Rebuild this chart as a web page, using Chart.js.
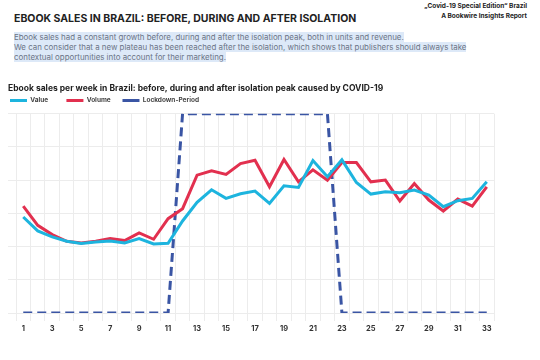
<!DOCTYPE html>
<html lang="en"><head>
<meta charset="utf-8">
<title>Ebook sales in Brazil</title>
<style type="text/css">
body   { margin:0; width:540px; height:360px; background:#ffffff; font-family:Inter,"Noto Sans",sans-serif; overflow:hidden; position:relative; }
.src   { position:absolute; right:13px; top:1px; text-align:right; font-size:6.5px; font-weight:700; color:#222; line-height:10px; }
h1     { position:absolute; left:14px; top:12px; margin:0; font-size:10.5px; font-weight:700; color:#222; letter-spacing:0; }
.txt   { position:absolute; left:14px; top:32px; width:525px; font-size:7.9px; line-height:10px; color:#6b7486; }
.txt span { background:#dde9f8; }
#box   { position:absolute; left:0; top:79px; width:540px; height:261px; }
</style>
<script src="https://cdn.jsdelivr.net/npm/chart.js"></script>
<script>
// weeks 1..33
weeks=[1,2,3,4,5,6,7,8,9,10,11,12,13,14,15,16,17,18,19,20,21,22,23,24,25,26,27,28,29,30,31,32,33];
value=[2.89,2.47,2.29,2.16,2.09,2.14,2.17,2.11,2.24,2.08,2.10,2.77,3.33,3.71,3.45,3.59,3.67,3.30,3.83,3.78,
       4.59,4.10,4.61,3.93,3.58,3.65,3.62,3.70,3.55,3.20,3.38,3.45,3.95];
volume=[3.22,2.64,2.36,2.16,2.11,2.16,2.24,2.18,2.41,2.22,2.84,3.14,4.15,4.28,4.17,4.50,4.60,3.80,4.62,3.95,
        4.31,4.00,4.53,4.53,3.95,4.00,3.37,3.90,3.40,3.07,3.43,3.22,3.80];
lockdown=[0,0,0,0,0,0,0,0,0,0,0,6,6,6,6,6,6,6,6,6,6,6,0,0,0,0,0,0,0,0,0,0,0];

function initChart() {
  config={type:'line',data:{labels:weeks,datasets:[{
    label:'Value',data:value,borderColor:'#1db4de',backgroundColor:'#1db4de',borderWidth:3,
    pointRadius:0,tension:0},{
    label:'Volume',data:volume,borderColor:'#e2304f',backgroundColor:'#e2304f',borderWidth:3,
    pointRadius:0,tension:0},{
    label:'Lockdown-Period',data:lockdown,borderColor:'#3a55a4',backgroundColor:'#3a55a4',borderWidth:3,
    borderDash:[9,5],pointRadius:0,tension:0}]},
  options:{responsive:true,maintainAspectRatio:false,animation:false,
    layout:{padding:{left:8,right:46,bottom:4}},
    plugins:{
      title:{display:true,align:'start',text:'Ebook sales per week in Brazil: before, during and after isolation peak caused by COVID-19',
        color:'#222',font:{family:'Inter',size:8.5,weight:'bold'},padding:{top:4,bottom:2}},
      legend:{align:'start',labels:{usePointStyle:true,pointStyle:'line',pointStyleWidth:17,boxWidth:17,boxHeight:6,
        padding:2,color:'#444',font:{family:'Inter',size:6.5,weight:'bold'},
        // widen the items a little, like the spacing in the original legend
        generateLabels:function(chart){
          var items=Chart.defaults.plugins.legend.labels.generateLabels(chart);
          var pad=['\u2002\u2002\u2002\u2002\u2002','\u2002\u2002\u2002',''];
          items.forEach(function(it,i){ it.text=it.text+pad[i]; });
          return items; }}},
      tooltip:{enabled:false}},
    scales:{
      x:{offset:true,grid:{offset:true,color:'#ececec'},border:{color:'#ececec'},
        ticks:{autoSkip:false,maxRotation:0,color:'#333',padding:3,font:{family:'Inter',size:7.5,weight:'bold'},
          callback:function(v,i){ return i%2==0 ? weeks[i] : ''; }}},
      y:{min:0,max:6,grid:{color:'#ececec'},border:{display:false},
        ticks:{display:false,stepSize:1}}}}};
  new Chart(document.getElementById('chart'),config); }
</script></head>
<body onload="initChart();">
<div class="src">„Covid-19 Special Edition“ Brazil<br>A Bookwire Insights Report</div>
<h1>EBOOK SALES IN BRAZIL: BEFORE, DURING AND AFTER ISOLATION</h1>
<div class="txt"><span>Ebook sales had a constant growth before, during and after the isolation peak, both in units and revenue.</span><br>
<span>We can consider that a new plateau has been reached after the isolation, which shows that publishers should always take</span><br>
<span>contextual opportunities into account for their marketing.</span></div>
<div id="box"><canvas id="chart"></canvas></div>
</body></html>
